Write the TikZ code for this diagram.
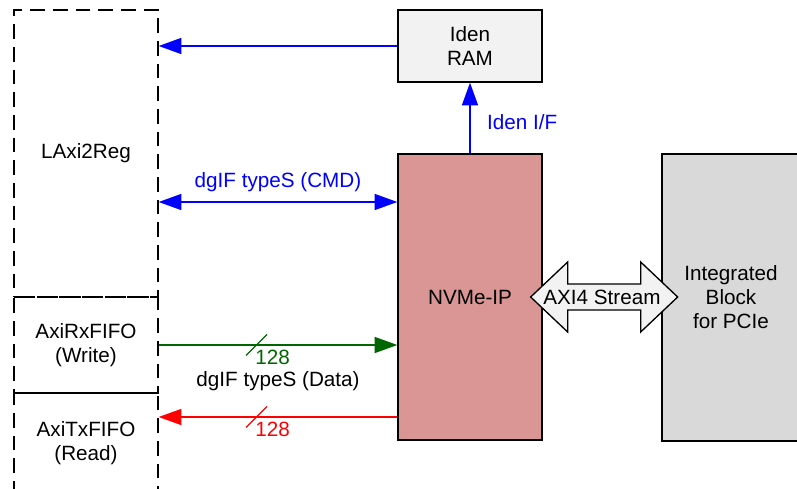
\documentclass[tikz,border=0pt]{standalone}
\usepackage{fontspec}
\setmainfont{Liberation Sans}
\usetikzlibrary{arrows.meta,calc}
\definecolor{nvmered}{RGB}{217,150,148}
\definecolor{ramgray}{RGB}{242,242,242}
\definecolor{pciegray}{RGB}{217,217,217}
\definecolor{busgreen}{RGB}{0,102,0}
\begin{document}
\begin{tikzpicture}[x=0.75pt,y=-0.75pt,
  font=\fontsize{15.5}{18}\selectfont,
  blk/.style={draw,line width=1pt,align=center,inner sep=0pt},
  dblk/.style={blk,dash pattern=on 11pt off 6pt},
  bus/.style={line width=1pt,-{Triangle[length=17pt,width=12pt]}},
  dbus/.style={line width=1pt,{Triangle[length=17pt,width=12pt]}-{Triangle[length=17pt,width=12pt]}}]
  \useasboundingbox (0,0) rectangle (797,489);
  \clip (0,0) rectangle (797,489);
  % user side
  \node[dblk,minimum width=108pt,minimum height=215.25pt] (lreg) at (86,153.5) {LAxi2Reg};
  \node[dblk,minimum width=108pt,minimum height=72pt] (rxf) at (86,345) {AxiRxFIFO\\(Write)};
  \node[dblk,minimum width=108pt,minimum height=75pt] (txf) at (86,443) {AxiTxFIFO\\(Read)};
  % IP side
  \node[blk,fill=ramgray,minimum width=108pt,minimum height=54pt] (ram) at (470,46) {Iden\\RAM};
  \node[blk,fill=nvmered,minimum width=108pt,minimum height=214.5pt] (nvme) at (470,297) {NVMe-IP};
  \node[blk,fill=pciegray,minimum width=103.5pt,minimum height=215.25pt] (pcie) at (731,297.5) {Integrated\\Block\\for PCIe};
  \coordinate (cmd) at (0,202);
  \coordinate (txr) at (0,417);
  \draw[bus,blue] (ram.west) -- (ram.west -| lreg.east);
  \draw[bus,blue] (nvme.north) -- (ram.south)
    node[midway,right,xshift=9pt,yshift=-3pt] {Iden I/F};
  \draw[dbus,blue] (lreg.east |- cmd) -- (nvme.west |- cmd)
    node[midway,above,yshift=4pt] {dgIF typeS (CMD)};
  \draw[bus,busgreen] (rxf.east) -- (rxf.east -| nvme.west) coordinate[pos=0.41] (rxbus);
  \draw[bus,red] (nvme.west |- txr) -- (txf.east |- txr) coordinate[pos=0.59] (txbus);
  \draw[busgreen,line width=1pt] ($(rxbus)+(-10.5,10.5)$) -- ($(rxbus)+(10.5,-10.5)$);
  \draw[red,line width=1pt] ($(txbus)+(-10.5,10.5)$) -- ($(txbus)+(10.5,-10.5)$);
  \node[text=busgreen] (rxw) at ($(rxbus)+(16,12)$) {128};
  \node[text=red] (txw) at ($(txbus)+(16,12)$) {128};
  \node (datalbl) at (278,381) {dgIF typeS (Data)};
  % AXI4 stream arrow
  \draw[fill=ramgray,line width=1pt] ($(nvme.east)+(-12,0)$) -- ++(37,-35) -- ++(0,22) -- ++(73,0)
    -- ++(0,-22) -- ++(37,35) -- ++(-37,35) -- ++(0,-22) -- ++(-73,0) -- ++(0,22) -- cycle;
  \node (axis) at (602,297) {AXI4 Stream};
\end{tikzpicture}
\end{document}
